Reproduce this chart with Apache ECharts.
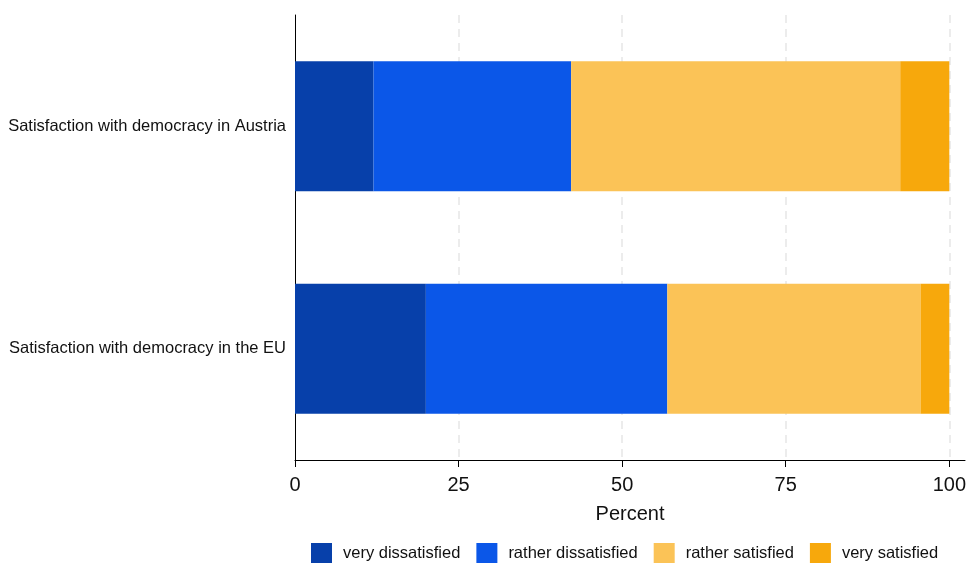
<!DOCTYPE html>
<html>
<head>
<meta charset="utf-8">
<script src="https://cdn.jsdelivr.net/npm/echarts@6/dist/echarts.min.js"></script>
<style>html,body{margin:0;padding:0;background:#fff;}#c{width:969px;height:563px;}</style>
</head>
<body>
<div id="c"></div>
<script>
var categories = ['Satisfaction with democracy in Austria', 'Satisfaction with democracy in the EU'];
var seriesNames = ['very dissatisfied', 'rather dissatisfied', 'rather satisfied', 'very satisfied'];
var veryDissatisfied = [12.0, 20.0];
var ratherDissatisfied = [30.2, 36.9];
var ratherSatisfied = [50.3, 38.7];
var verySatisfied = [7.5, 4.4];
var colors = ['#0740AA', '#0B57E8', '#FBC357', '#F7A80C'];
var tickValues = [0, 25, 50, 75, 100];

var values = [veryDissatisfied, ratherDissatisfied, ratherSatisfied, verySatisfied];
var chart = echarts.init(document.getElementById('c'), null, {renderer: 'canvas'});
var font = 'Liberation Sans, Arial, sans-serif';
chart.setOption({
  animation: false,
  textStyle: {fontFamily: font},
  grid: {left: 295, right: 2, top: 15, bottom: 103, containLabel: false},
  legend: {
    data: seriesNames,
    top: 543,
    left: 311,
    padding: 0,
    itemWidth: 21,
    itemHeight: 20,
    itemGap: 16,
    icon: 'rect',
    textStyle: {fontSize: 16.5, color: '#111', fontFamily: font, padding: [0, 0, 0, 6]}
  },
  xAxis: {
    type: 'value',
    min: 0,
    max: 102.4,
    interval: 25,
    name: 'Percent',
    nameLocation: 'middle',
    nameGap: 44,
    nameTextStyle: {fontSize: 20, color: '#111', fontFamily: font},
    axisLine: {show: true, lineStyle: {color: '#000', width: 1}},
    axisTick: {show: true, length: 7, lineStyle: {color: '#000'}},
    axisLabel: {
      fontSize: 20, color: '#111', margin: 15, showMaxLabel: false,
      formatter: function (v) { return tickValues.indexOf(v) >= 0 ? String(v) : ''; }
    },
    splitLine: {show: true, showMinLine: false, showMaxLine: false, lineStyle: {color: '#e6e6e6', type: [8, 6], width: 1.5}}
  },
  yAxis: {
    type: 'category',
    data: categories,
    inverse: true,
    axisLine: {show: true, lineStyle: {color: '#000', width: 1}},
    axisTick: {show: false},
    axisLabel: {fontSize: 16.5, color: '#111', margin: 9, fontFamily: font},
    splitLine: {show: false}
  },
  series: seriesNames.map(function (n, i) {
    return {
      name: n,
      type: 'bar',
      stack: 'total',
      barWidth: 130,
      data: values[i],
      itemStyle: {color: colors[i]}
    };
  })
});
</script>
</body>
</html>
